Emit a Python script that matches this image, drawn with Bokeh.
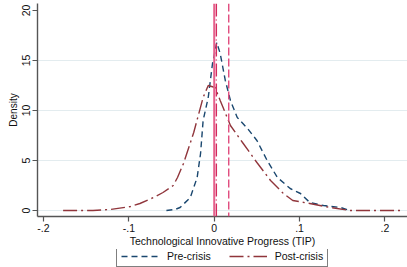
from bokeh.plotting import figure
from bokeh.layouts import column
from bokeh.models import Range1d, FixedTicker, Span, Legend, LegendItem, CustomJSTickFormatter
from bokeh.embed import file_html
from bokeh.resources import INLINE

# ---- data ----
pre_x = [-0.056, -0.046, -0.040, -0.028, -0.020, -0.016, -0.013, -0.007, -0.002, 0.003,
         0.007, 0.013, 0.019, 0.027, 0.039, 0.050, 0.062, 0.074, 0.089, 0.101,
         0.112, 0.128, 0.148, 0.159]
pre_y = [0.0, 0.1, 0.3, 1.3, 3.3, 5.7, 9.0, 11.3, 14.7, 16.8,
         15.7, 13.0, 11.0, 9.3, 8.2, 7.0, 5.0, 3.3, 2.2, 1.7,
         0.8, 0.5, 0.3, 0.0]

post_x = [-0.177, -0.142, -0.122, -0.098, -0.087, -0.071, -0.060, -0.048, -0.043, -0.036,
          -0.024, -0.013, -0.007, 0.001, 0.007, 0.019, 0.034, 0.050, 0.066, 0.081,
          0.092, 0.112, 0.136, 0.159, 0.183, 0.221]
post_y = [0.0, 0.0, 0.1, 0.4, 0.7, 1.3, 1.8, 2.5, 3.3, 4.7,
          7.8, 11.3, 12.5, 12.3, 11.0, 8.5, 6.7, 4.8, 3.0, 1.7,
          1.0, 0.7, 0.3, 0.0, 0.0, 0.0]

vline_x = [0.0, 0.0025, 0.017]          # solid, dash-dot, dashed reference lines
x_ticks = [-0.2, -0.1, 0.0, 0.1, 0.2]
y_ticks = [0, 5, 10, 15, 20]
series_names = ["Pre-crisis", "Post-crisis"]

FONT = "Liberation Sans"
AXIS_COL = "#555555"
PRE_COL, PRE_DASH = "#1a476f", "6 4"
POST_COL, POST_DASH = "#90353b", "14 4 2 4"

p = figure(width=407, height=249, output_backend="svg", toolbar_location=None,
           x_range=Range1d(-0.207, 0.2264), y_range=Range1d(-0.6, 20.7),
           min_border_left=37, min_border_right=0, min_border_top=3, min_border_bottom=33)
p.outline_line_color = None
p.background_fill_color = "white"
p.border_fill_color = "white"

# grid
p.xgrid.visible = False
p.ygrid.ticker = FixedTicker(ticks=[0, 5, 10, 15])
p.ygrid.grid_line_color = "#e3ecef"
p.ygrid.grid_line_width = 1

# axes
for ax in (p.xaxis[0], p.yaxis[0]):
    ax.axis_line_color = AXIS_COL
    ax.axis_line_width = 1.4
    ax.major_tick_line_color = AXIS_COL
    ax.major_tick_line_width = 1.2
    ax.major_tick_out = 5
    ax.major_tick_in = 0
    ax.minor_tick_line_color = None
    ax.major_label_text_font = FONT
    ax.major_label_text_font_size = "10.5px"
    ax.major_label_text_color = "#111111"
    ax.axis_label_text_font = FONT
    ax.axis_label_text_font_size = "10.5px"
    ax.axis_label_text_font_style = "normal"
    ax.axis_label_text_color = "#111111"

p.xaxis.ticker = FixedTicker(ticks=x_ticks)
p.xaxis.formatter = CustomJSTickFormatter(code="""
    if (Math.abs(tick) < 1e-9) { return '0'; }
    return tick.toFixed(1).replace('0.', '.');
""")
p.xaxis.major_label_standoff = 2
p.xaxis.axis_label = "Technological Innovative Progress (TIP)"
p.xaxis.axis_label_standoff = 0

p.yaxis.ticker = FixedTicker(ticks=y_ticks)
p.yaxis.major_label_orientation = "vertical"
p.yaxis.major_label_standoff = 3
p.yaxis.axis_label = "Density"
p.yaxis.axis_label_standoff = 0
p.yaxis.axis_label_text_font_size = "10px"

# curves
p.line(pre_x, pre_y, line_color=PRE_COL, line_width=1.4, line_dash=PRE_DASH)
p.line(post_x, post_y, line_color=POST_COL, line_width=1.4, line_dash=POST_DASH)

# vertical reference lines
p.add_layout(Span(location=vline_x[0], dimension="height", line_color="#e5608c", line_width=2))
p.add_layout(Span(location=vline_x[1], dimension="height", line_color="#d42a5e", line_width=1.4,
                  line_dash="13 3 1 3"))
p.add_layout(Span(location=vline_x[2], dimension="height", line_color="#e04a7c", line_width=1.4,
                  line_dash="8 3"))

# legend strip below the chart (legend-only figure; its lines lie outside its visible range)
lg = figure(width=407, height=18, output_backend="svg", toolbar_location=None,
            x_range=Range1d(-0.207, 0.2264), y_range=Range1d(100, 101),
            min_border_left=0, min_border_right=0, min_border_top=0, min_border_bottom=0)
lg.axis.visible = False
lg.grid.visible = False
lg.outline_line_color = None
lg.border_fill_color = "white"
lg.background_fill_color = "white"
l_pre = lg.line(pre_x, pre_y, line_color=PRE_COL, line_width=1.4, line_dash=PRE_DASH)
l_post = lg.line(post_x, post_y, line_color=POST_COL, line_width=1.4, line_dash=POST_DASH)

legend = Legend(items=[LegendItem(label=series_names[0], renderers=[l_pre]),
                       LegendItem(label=series_names[1], renderers=[l_post])],
                location=(79, 0), orientation="horizontal",
                border_line_color="black", border_line_width=1,
                background_fill_color="white", background_fill_alpha=1,
                padding=4, spacing=18, glyph_width=38, glyph_height=10,
                label_height=10, label_standoff=8,
                label_text_font=FONT, label_text_font_size="10.5px",
                label_text_color="#111111", margin=0)
lg.add_layout(legend, "center")

layout = column(p, lg, spacing=0)
open("out.html", "w").write(file_html(layout, INLINE))
